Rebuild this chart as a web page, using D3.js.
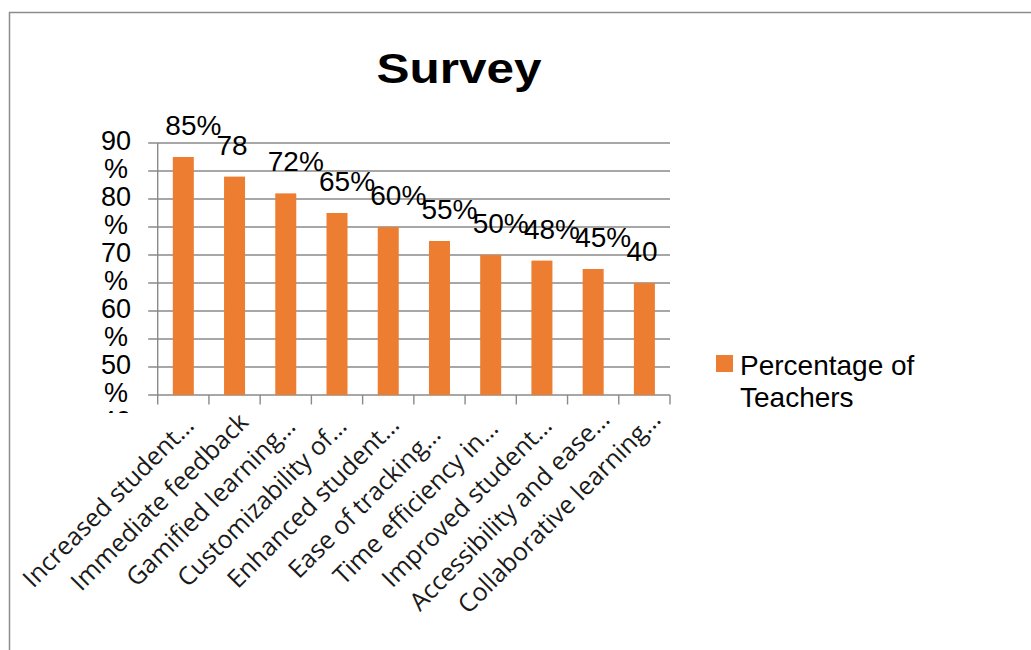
<!DOCTYPE html>
<html>
<head>
<meta charset="utf-8">
<script src="https://cdn.jsdelivr.net/npm/d3@7"></script>
<style>
  body { margin: 0; background: #fff; }
</style>
</head>
<body>
<script>
// chart data
const categories = ["Increased student…", "Immediate feedback", "Gamified learning…", "Customizability of…",
  "Enhanced student…", "Ease of tracking…", "Time efficiency in…", "Improved student…",
  "Accessibility and ease…", "Collaborative learning…"];
const percentages = [85, 78, 72, 65, 60, 55, 50, 48, 45, 40];
const valueLabels = ["85%", "78", "72%", "65%", "60%", "55%", "50%", "48%", "45%", "40"];
const yTickLabels = ["90%", "80%", "70%", "60%", "50%", "40%"];
const seriesName = ["Percentage of", "Teachers"];
const chartTitle = "Survey";

const W = 1031, H = 650;
const orange = "#ED7D31", grid = "#8a8a8a";
const plot = {left: 157.7, right: 670, top: 143, bottom: 395};

const svg = d3.select("body").append("svg")
    .attr("width", W)
    .attr("height", H)
    .attr("font-family", "'Liberation Sans', Arial, sans-serif");

// outer frame (runs off the right / bottom of the picture)
svg.append("rect")
    .attr("x", 9.5).attr("y", 12.5)
    .attr("width", W + 20).attr("height", H + 20)
    .attr("fill", "#fff")
    .attr("stroke", "#8c8c8c")
    .attr("stroke-width", 1.5);

const x = d3.scaleBand()
    .domain(categories)
    .range([plot.left, plot.right])
    .paddingInner(0.59)
    .paddingOuter(0.295);

const y = d3.scaleLinear()
    .domain([0, 90])
    .range([plot.bottom, plot.top]);

const yTicks = y.ticks(9);

// gridlines + little outside ticks on the left
svg.append("g")
    .attr("stroke", grid)
    .attr("stroke-width", 1.4)
  .selectAll("line")
  .data(yTicks)
  .join("line")
    .attr("x1", plot.left - 9.5)
    .attr("x2", plot.right)
    .attr("y1", d => y(d))
    .attr("y2", d => y(d));

// y axis line
svg.append("line")
    .attr("x1", plot.left).attr("x2", plot.left)
    .attr("y1", plot.top).attr("y2", plot.bottom)
    .attr("stroke", grid).attr("stroke-width", 1.4);

// category ticks sit on the band boundaries
const step = x.step();
svg.append("g")
    .attr("stroke", grid)
    .attr("stroke-width", 1.4)
  .selectAll("line")
  .data(d3.range(categories.length + 1))
  .join("line")
    .attr("x1", i => plot.left + i * step)
    .attr("x2", i => plot.left + i * step)
    .attr("y1", plot.bottom)
    .attr("y2", plot.bottom + 9.5);

// bars
svg.append("g")
    .attr("fill", orange)
  .selectAll("rect")
  .data(percentages)
  .join("rect")
    .attr("x", (d, i) => x(categories[i]))
    .attr("y", d => y(d))
    .attr("width", x.bandwidth())
    .attr("height", d => y(0) - y(d));

// value labels
svg.append("g")
    .attr("font-size", 28)
    .attr("fill", "#000")
  .selectAll("text")
  .data(percentages)
  .join("text")
    .attr("x", (d, i) => x(categories[i]) + x.bandwidth() / 2 - 18)
    .attr("y", d => y(d) - 22)
    .text((d, i) => valueLabels[i]);

// y labels: each one wraps onto two lines, one gridline step per line (as in the picture)
svg.append("clipPath").attr("id", "yclip")
  .append("rect").attr("x", 0).attr("y", 0).attr("width", plot.left).attr("height", 413);

const lineStep = y(yTicks[yTicks.length - 2]) - y(yTicks[yTicks.length - 1]);
const yLines = yTickLabels.flatMap(t => [t.replace("%", ""), "%"]);
svg.append("g")
    .attr("clip-path", "url(#yclip)")
    .attr("font-size", 27)
    .attr("text-anchor", "middle")
  .selectAll("text")
  .data(yLines)
  .join("text")
    .attr("x", 116)
    .attr("y", (d, i) => y(90) + i * lineStep + 6.5)
    .text(d => d);

// category labels, rotated -45 and right-aligned near the tick;
// a label shorter than the box gets centred in it
const boxLen = 246;
svg.append("g")
    .attr("font-family", "'Open Sans', sans-serif")
    .attr("font-size", 25)
    .attr("fill", "#1a1a1a")
    .attr("text-anchor", "end")
  .selectAll("text")
  .data(categories)
  .join("text")
    .attr("transform", d => `translate(${x(d) + x.bandwidth() / 2 + 18},${plot.bottom + 26}) rotate(-45)`)
    .text(d => d)
    .attr("x", function () {
      const len = this.getComputedTextLength();
      return len < boxLen ? -(boxLen - len) / 2 : 0;
    });

// title
svg.append("text")
    .attr("x", 459)
    .attr("y", 83)
    .attr("text-anchor", "middle")
    .attr("font-size", 43)
    .attr("font-weight", "bold")
    .attr("textLength", 165)
    .attr("lengthAdjust", "spacingAndGlyphs")
    .text(chartTitle);

// legend
const legend = svg.append("g").attr("transform", "translate(716,355)");
legend.append("rect")
    .attr("width", 17).attr("height", 17)
    .attr("fill", orange);
legend.selectAll("text")
  .data(seriesName)
  .join("text")
    .attr("x", 24)
    .attr("y", (d, i) => 19.5 + i * 32)
    .attr("font-size", 28)
    .text(d => d);
</script>
</body>
</html>
